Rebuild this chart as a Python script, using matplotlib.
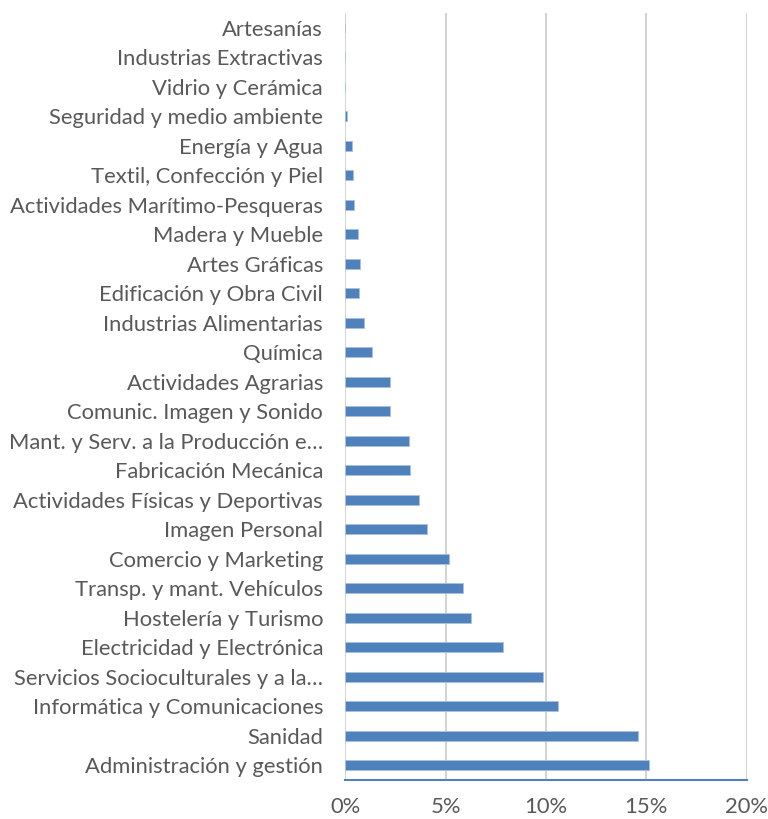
import matplotlib
matplotlib.use("Agg")
import matplotlib.pyplot as plt
from matplotlib.ticker import FuncFormatter

categories = [
    "Administración y gestión",
    "Sanidad",
    "Informática y Comunicaciones",
    "Servicios Socioculturales y a la…",
    "Electricidad y Electrónica",
    "Hostelería y Turismo",
    "Transp. y mant. Vehículos",
    "Comercio y Marketing",
    "Imagen Personal",
    "Actividades Físicas y Deportivas",
    "Fabricación Mecánica",
    "Mant. y Serv. a la Producción e…",
    "Comunic. Imagen y Sonido",
    "Actividades Agrarias",
    "Química",
    "Industrias Alimentarias",
    "Edificación y Obra Civil",
    "Artes Gráficas",
    "Madera y Mueble",
    "Actividades Marítimo-Pesqueras",
    "Textil, Confección y Piel",
    "Energía y Agua",
    "Seguridad y medio ambiente",
    "Vidrio y Cerámica",
    "Industrias Extractivas",
    "Artesanías",
]
values = [15.13, 14.57, 10.58, 9.83, 7.87, 6.26, 5.85, 5.18, 4.09, 3.69, 3.22, 3.16,
          2.22, 2.23, 1.35, 0.93, 0.68, 0.73, 0.62, 0.42, 0.37, 0.32, 0.10, 0.0, 0.0, 0.0]
xticks = [0, 5, 10, 15, 20]

plt.rcParams['font.family'] = ['Lato', 'DejaVu Sans']

fig = plt.figure(figsize=(7.68, 8.19), dpi=100)
ax = fig.add_axes([345.3/768, 1-780/819, (746.7-345.3)/768, (780-13)/819])

pos = list(range(len(categories)))
ax.barh(pos, values, height=0.35, color='#4f81bd', edgecolor='#a9c1df', linewidth=0.6, zorder=3)

ax.set_xlim(0, 20)
ax.set_ylim(-0.5, len(categories) - 0.5)
ax.set_yticks(pos)
ax.set_yticklabels(categories)
ax.set_xticks(xticks)
ax.xaxis.set_major_formatter(FuncFormatter(lambda v, p: f"{int(v)}%"))

ax.grid(axis='x', color='#d4d4d4', linewidth=1.5, zorder=0)
ax.grid(axis='y', visible=False)
for s in ['top', 'right', 'left']:
    ax.spines[s].set_visible(False)
ax.spines['bottom'].set_color('#4f81bd')
ax.spines['bottom'].set_linewidth(1.5)
ax.tick_params(axis='both', length=0, labelsize=15.8, colors='#595959')
ax.tick_params(axis='y', pad=16)
ax.tick_params(axis='x', pad=12)

fig.savefig('out.png', dpi=100)
